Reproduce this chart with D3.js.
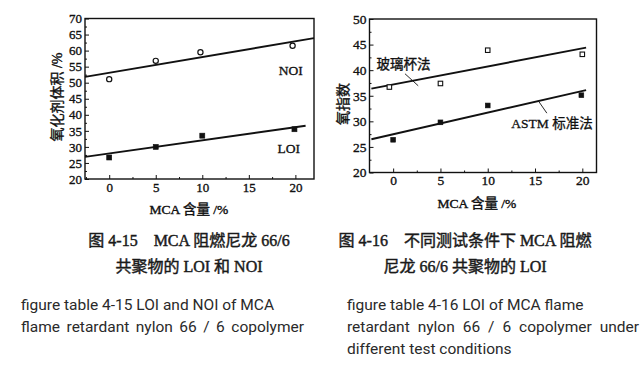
<!DOCTYPE html>
<html><head><meta charset="utf-8">
<script src="https://cdn.jsdelivr.net/npm/d3@7"></script>
<style>body{margin:0;background:#fff} svg{display:block}</style>
</head><body>
<svg id="c" width="644" height="370"></svg>
<script>
// ---------- Figure 4-15 data ----------
const mcaTicks = [0, 5, 10, 15, 20];
const mcaMinor = [-2.5, 2.5, 7.5, 12.5, 17.5];
const leftYTicks = [20, 25, 30, 35, 40, 45, 50, 55, 60, 65, 70];
const noiX = [0, 5, 9.8, 19.7];
const noiY = [51.1, 56.8, 59.5, 61.5];
const loiX = [0, 5, 10, 19.9];
const loiY = [26.7, 30.0, 33.5, 35.5];
const noiFitX = [-2.6, 22.0];
const noiFitY = [51.8, 63.9];
const loiFitX = [-2.6, 21.1];
const loiFitY = [26.9, 36.6];
// ---------- Figure 4-16 data ----------
const rightYTicks = [20, 25, 30, 35, 40, 45, 50];
const glassX = [-0.4, 5, 10, 20];
const glassY = [36.7, 37.4, 43.9, 43.1];
const astmX = [0, 5, 10, 19.9];
const astmY = [26.4, 29.8, 33.1, 35.1];
const glassFitX = [-2.3, 20.4];
const glassFitY = [36.4, 44.4];
const astmFitX = [-2.3, 20.4];
const astmFitY = [26.5, 36.1];
// ---------- text ----------
const xTitle = "MCA 含量 /%";
const leftYTitle = "氧化剂体积 /%";
const rightYTitle = "氧指数";
const seriesLabels = ["NOI", "LOI", "玻璃杯法", "ASTM 标准法"];
const capLeftCN = ["图 4-15\u2003MCA 阻燃尼龙 66/6", "共聚物的 LOI 和 NOI"];
const capRightCN = ["图 4-16\u2003不同测试条件下 MCA 阻燃", "尼龙 66/6 共聚物的 LOI"];
const capLeftEN = ["figure table 4-15 LOI and NOI of MCA", "flame retardant nylon 66 / 6 copolymer"];
const capRightEN = ["figure table 4-16 LOI of MCA flame", "retardant nylon 66 / 6 copolymer under", "different test conditions"];

const svg = d3.select("#c");
const SERIF = "'Liberation Serif','Times New Roman','Noto Sans CJK SC',serif";
const INK = "#111";

function zip(xs, ys) { return xs.map((x, i) => [x, ys[i]]); }

function panel(o) {
  const x = d3.scaleLinear().domain(o.xd).range(o.xr);
  const y = d3.scaleLinear().domain(o.yd).range(o.yr);
  const g = svg.append("g");
  const yMinor = [];
  for (let i = 0; i < o.yTicks.length - 1; i++) yMinor.push((o.yTicks[i] + o.yTicks[i + 1]) / 2);
  g.append("g").attr("transform", `translate(${o.xr[0]},0)`)
    .call(d3.axisLeft(y).tickValues(yMinor).tickSize(-2).tickFormat(""))
    .call(s => s.select(".domain").remove());
  g.append("g").attr("transform", `translate(0,${o.yr[0]})`)
    .call(d3.axisBottom(x).tickValues(mcaMinor.filter(v => v > o.xd[0] && v < o.xd[1])).tickSize(-2).tickFormat(""))
    .call(s => s.select(".domain").remove());
  const ya = g.append("g").attr("transform", `translate(${o.xr[0]},0)`)
    .call(d3.axisLeft(y).tickValues(o.yTicks).tickSize(-4).tickPadding(o.yPad).tickFormat(d3.format("d")));
  const xa = g.append("g").attr("transform", `translate(0,${o.yr[0]})`)
    .call(d3.axisBottom(x).tickValues(mcaTicks).tickSize(-4).tickPadding(o.xPad).tickFormat(d3.format("d")));
  [ya, xa].forEach(a => {
    a.select(".domain").remove();
    a.selectAll("text").attr("font-family", SERIF).attr("font-size", o.tickFs)
      .attr("fill", INK).attr("stroke", INK).attr("stroke-width", 0.35);
  });
  g.selectAll(".tick line").attr("stroke", INK).attr("stroke-width", 1);
  g.append("rect").attr("x", o.xr[0]).attr("y", o.yr[1])
    .attr("width", o.xr[1] - o.xr[0]).attr("height", o.yr[0] - o.yr[1])
    .attr("fill", "none").attr("stroke", INK).attr("stroke-width", 1.4);
  const line = d3.line().x(d => x(d[0])).y(d => y(d[1]));
  o.fits.forEach(f => g.append("path").datum(f).attr("d", line)
    .attr("fill", "none").attr("stroke", INK).attr("stroke-width", 1.9));
  o.series.forEach(s => {
    const pts = zip(s.x, s.y);
    if (s.shape === "circle") {
      g.selectAll(null).data(pts).join("circle")
        .attr("cx", d => x(d[0])).attr("cy", d => y(d[1])).attr("r", 2.6)
        .attr("fill", "#fff").attr("stroke", INK).attr("stroke-width", 1.2);
    } else {
      const sz = s.size;
      g.selectAll(null).data(pts).join("rect")
        .attr("x", d => x(d[0]) - sz / 2).attr("y", d => y(d[1]) - sz / 2)
        .attr("width", sz).attr("height", sz)
        .attr("fill", s.filled ? INK : "#fff").attr("stroke", INK).attr("stroke-width", s.filled ? 0.6 : 1.1);
    }
  });
  g.append("text").attr("x", o.xTitlePos[0]).attr("y", o.xTitlePos[1])
    .attr("text-anchor", "middle").attr("dominant-baseline", "central")
    .attr("font-family", SERIF).attr("font-size", 13.5).attr("fill", INK).attr("stroke", INK).attr("stroke-width", 0.4)
    .text(xTitle);
  g.append("text").attr("transform", `translate(${o.yTitlePos[0]},${o.yTitlePos[1]}) rotate(-90)`)
    .attr("text-anchor", "middle").attr("dominant-baseline", "central")
    .attr("font-family", SERIF).attr("font-size", o.yTitleFs).attr("fill", INK).attr("stroke", INK).attr("stroke-width", 0.4)
    .text(o.yTitle);
  return { g, x, y };
}

const L = panel({
  xd: [-2.6, 22], xr: [85, 314], yd: [20, 70], yr: [179, 18.5],
  yTicks: leftYTicks, yPad: 3, xPad: 4, tickFs: 13,
  fits: [zip(noiFitX, noiFitY), zip(loiFitX, loiFitY)],
  series: [
    { x: noiX, y: noiY, shape: "circle" },
    { x: loiX, y: loiY, shape: "square", filled: true, size: 5 }
  ],
  xTitlePos: [189, 209], yTitlePos: [57, 97], yTitle: leftYTitle, yTitleFs: 14
});
L.g.append("text").attr("x", L.x(19.5)).attr("y", L.y(52.5)).attr("text-anchor", "middle")
  .attr("font-family", SERIF).attr("font-size", 13.5).attr("fill", INK).attr("stroke", INK).attr("stroke-width", 0.3)
  .text(seriesLabels[0]);
L.g.append("text").attr("x", L.x(19.3)).attr("y", L.y(28.1)).attr("text-anchor", "middle")
  .attr("font-family", SERIF).attr("font-size", 13.5).attr("fill", INK).attr("stroke", INK).attr("stroke-width", 0.3)
  .text(seriesLabels[1]);

const R = panel({
  xd: [-2.5, 21.5], xr: [369.5, 596.5], yd: [20, 50], yr: [172.5, 19],
  yTicks: rightYTicks, yPad: 3, xPad: 3, tickFs: 13.5,
  fits: [zip(glassFitX, glassFitY), zip(astmFitX, astmFitY)],
  series: [
    { x: glassX, y: glassY, shape: "square", filled: false, size: 4.5 },
    { x: astmX, y: astmY, shape: "square", filled: true, size: 4.8 }
  ],
  xTitlePos: [477, 203], yTitlePos: [343, 104], yTitle: rightYTitle, yTitleFs: 14
});
R.g.append("text").attr("x", R.x(1.1)).attr("y", R.y(41.2)).attr("text-anchor", "middle")
  .attr("dominant-baseline", "central")
  .attr("font-family", SERIF).attr("font-size", 13.5).attr("fill", INK).attr("stroke", INK).attr("stroke-width", 0.35)
  .text(seriesLabels[2]);
R.g.append("text").attr("x", R.x(16.8)).attr("y", R.y(29.6)).attr("text-anchor", "middle")
  .attr("dominant-baseline", "central")
  .attr("font-family", SERIF).attr("font-size", 13.5).attr("fill", INK).attr("stroke", INK).attr("stroke-width", 0.3)
  .text(seriesLabels[3]);
R.g.append("line").attr("x1", R.x(1.25)).attr("y1", R.y(39.3)).attr("x2", R.x(2.65)).attr("y2", R.y(36.95))
  .attr("stroke", INK).attr("stroke-width", 0.9);
R.g.append("line").attr("x1", R.x(15.35)).attr("y1", R.y(34.0)).attr("x2", R.x(16.25)).attr("y2", R.y(31.6))
  .attr("stroke", INK).attr("stroke-width", 0.9);

function cn(lines, cx, ys) {
  lines.forEach((t, i) => svg.append("text").attr("x", cx).attr("y", ys[i])
    .attr("text-anchor", "middle").attr("dominant-baseline", "central")
    .attr("font-family", SERIF).attr("font-size", 16).attr("fill", "#1a1a1a")
    .attr("stroke", "#1a1a1a").attr("stroke-width", 0.45)
    .text(t));
}
cn(capLeftCN, 189, [240, 266.5]);
cn(capRightCN, 465, [240, 266.5]);

function en(lines, x0, ys, widths) {
  lines.forEach((t, i) => {
    const el = svg.append("text").attr("x", x0).attr("y", ys[i])
      .attr("dominant-baseline", "central")
      .attr("font-family", "Roboto,'Liberation Sans',sans-serif").attr("font-size", 15.5).attr("fill", "#2a2a2a")
      .text(t);
    if (widths[i]) {
      const nat = el.node().getComputedTextLength();
      const spaces = (t.match(/ /g) || []).length;
      if (spaces) el.attr("word-spacing", (widths[i] - nat) / spaces);
    }
  });
}
en(capLeftEN, 21, [305, 327], [0, 283]);
en(capRightEN, 347, [305, 327, 349], [0, 292, 0]);
</script>
</body></html>
